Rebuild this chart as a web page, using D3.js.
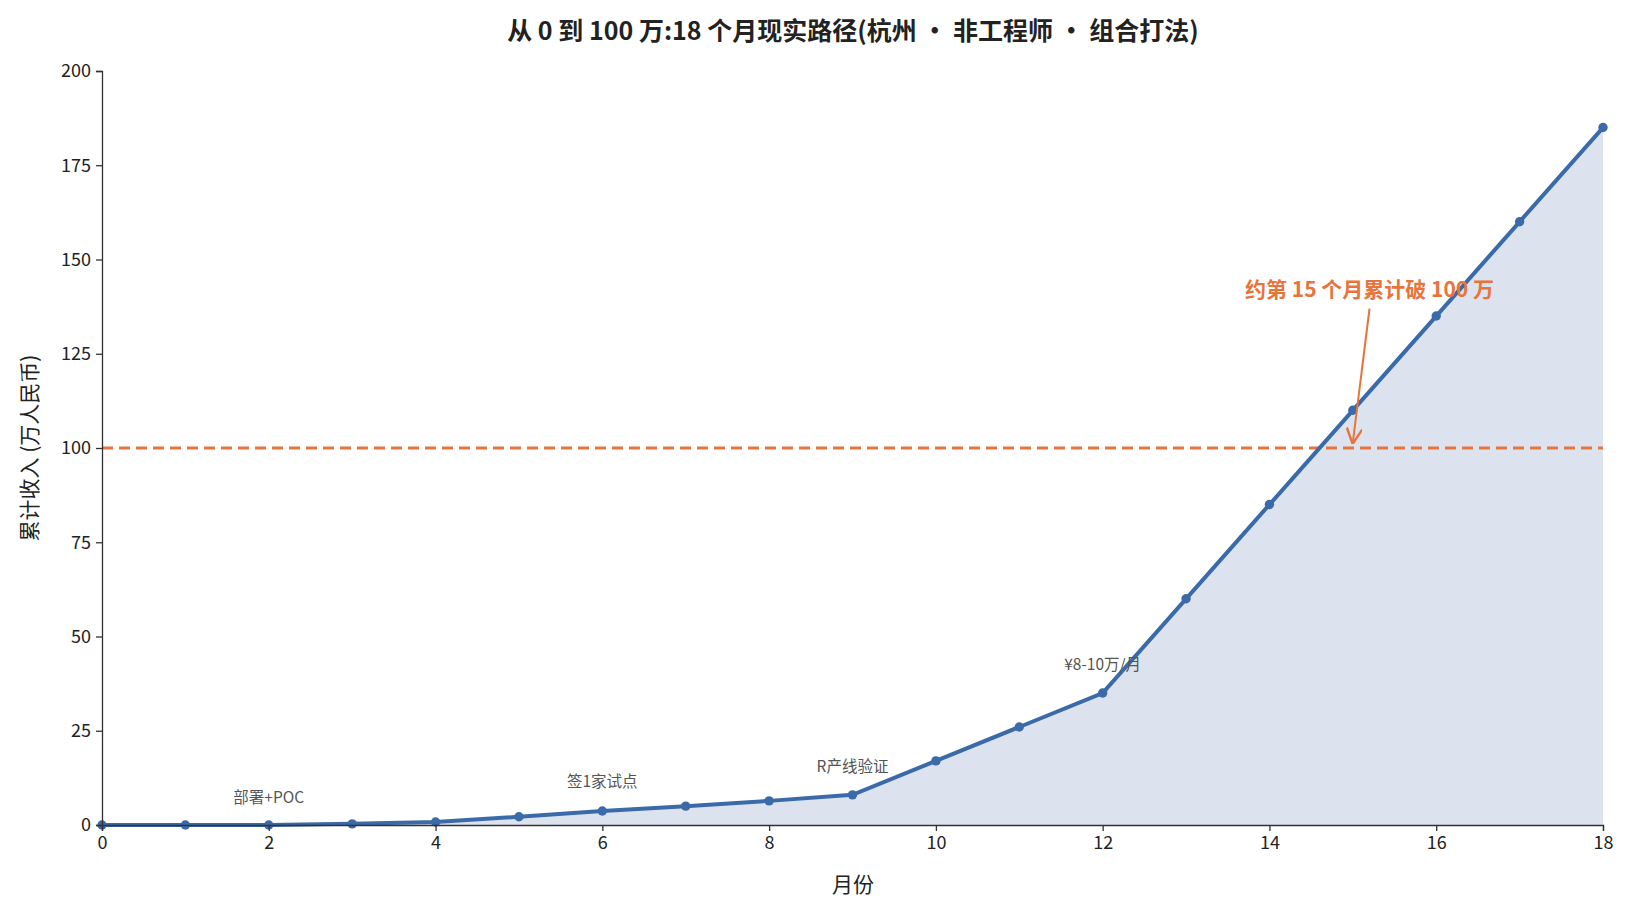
<!DOCTYPE html>
<html><head><meta charset="utf-8">
<script src="https://cdn.jsdelivr.net/npm/d3@7"></script>
<style>body{margin:0;background:#fff}text{font-family:"Noto Sans CJK SC","Noto Sans",sans-serif}</style>
</head><body><svg id="c" width="1630" height="910"></svg>
<script>
const months = [0,1,2,3,4,5,6,7,8,9,10,11,12,13,14,15,16,17,18];
const cumulative = [0,0,0,0.3,0.8,2.2,3.7,5,6.4,8,17,26,35,60,85,110,135,160,185];
const xTicks = [0,2,4,6,8,10,12,14,16,18];
const yTicks = [0,25,50,75,100,125,150,175,200];
const notes = [
  {m:2, v:5.8, text:"部署+POC"},
  {m:6, v:10, text:"签1家试点"},
  {m:9, v:14, text:"R产线验证"},
  {m:12, v:41, text:"¥8-10万/月"}
];
const target = 100;
const callout = {m:15.2, v:140, sv:137, tm:15, tv:101.5, text:"约第 15 个月累计破 100 万"};

const svg = d3.select("#c");
const x = d3.scaleLinear().domain([0,18]).range([102,1603]);
const y = d3.scaleLinear().domain([0,200]).range([825,71]);

svg.append("path").datum(months.map((m,i)=>[m,cumulative[i]]))
  .attr("d", d3.area().x(d=>x(d[0])).y0(y(0)).y1(d=>y(d[1])))
  .attr("fill","#dce3ee");
svg.append("line").attr("x1",x(0)).attr("x2",x(18)).attr("y1",y(target)).attr("y2",y(target))
  .attr("stroke","#e8743b").attr("stroke-width",3).attr("stroke-dasharray","11,6");
svg.append("path").datum(months.map((m,i)=>[m,cumulative[i]]))
  .attr("d", d3.line().x(d=>x(d[0])).y(d=>y(d[1])))
  .attr("fill","none").attr("stroke","#3a6aa8").attr("stroke-width",4);
svg.selectAll("circle.p").data(months).join("circle")
  .attr("cx",d=>x(d)).attr("cy",(d,i)=>y(cumulative[i])).attr("r",4.7).attr("fill","#3a6aa8");

const xa = svg.append("g").attr("transform",`translate(0,${y(0)})`)
  .call(d3.axisBottom(x).tickValues(xTicks).tickSize(6).tickPadding(5));
const ya = svg.append("g").attr("transform",`translate(${x(0)},0)`)
  .call(d3.axisLeft(y).tickValues(yTicks).tickSize(6).tickPadding(5));
[xa,ya].forEach(a=>{a.selectAll("text").attr("font-size",18).attr("fill","#222");
  a.selectAll("line,path").attr("stroke","#333").attr("stroke-width",1.3);});

svg.selectAll("text.n").data(notes).join("text")
  .attr("x",d=>x(d.m)).attr("y",d=>y(d.v)).attr("text-anchor","middle")
  .attr("font-size",15.5).attr("fill","#555").text(d=>d.text);

svg.append("defs").append("marker").attr("id","ar").attr("viewBox","0 0 10 10").attr("refX",9).attr("refY",5)
  .attr("markerWidth",8).attr("markerHeight",8).attr("orient","auto")
  .append("path").attr("d","M0,0L10,5L0,10").attr("fill","none").attr("stroke","#e8743b").attr("stroke-width",1.5);
svg.append("line").attr("x1",x(callout.m)).attr("y1",y(callout.sv)).attr("x2",x(callout.tm)).attr("y2",y(callout.tv))
  .attr("stroke","#e8743b").attr("stroke-width",2).attr("marker-end","url(#ar)");
svg.append("text").attr("x",x(callout.m)).attr("y",y(callout.v)).attr("text-anchor","middle")
  .attr("font-size",21).attr("font-weight","bold").attr("fill","#e8743b").text(callout.text);

svg.append("text").attr("x",853).attr("y",40).attr("text-anchor","middle").attr("font-size",25)
  .attr("font-weight","bold").attr("fill","#222").text("从 0 到 100 万:18 个月现实路径(杭州 • 非工程师 • 组合打法)");
svg.append("text").attr("x",853).attr("y",892).attr("text-anchor","middle").attr("font-size",21).attr("fill","#222").text("月份");
svg.append("text").attr("transform","translate(37,448) rotate(-90)").attr("text-anchor","middle")
  .attr("font-size",21).attr("fill","#222").text("累计收入 (万人民币)");
</script></body></html>
